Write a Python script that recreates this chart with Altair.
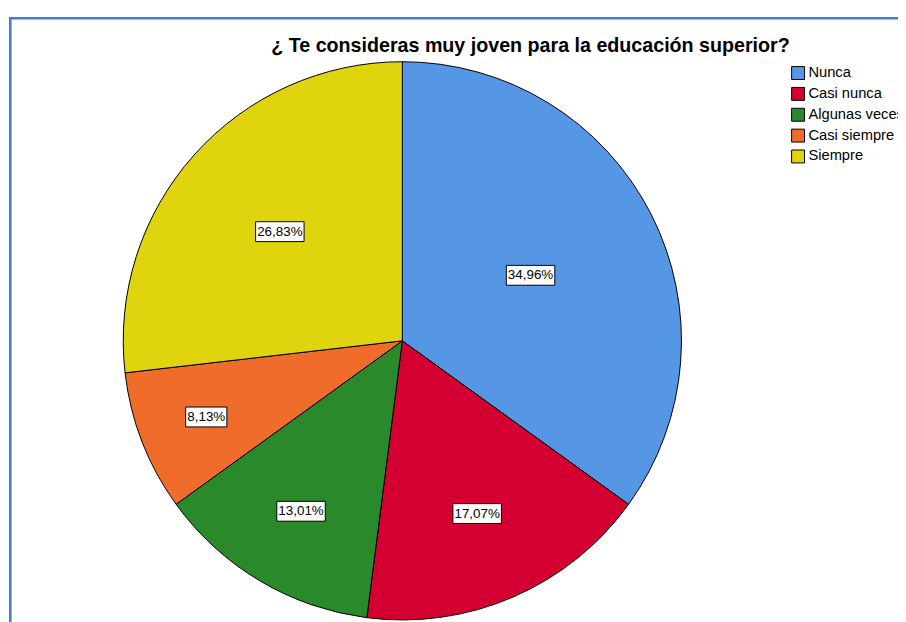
import altair as alt
import pandas as pd

titulo = "¿ Te consideras muy joven para la educación superior?"
categorias = ["Nunca", "Casi nunca", "Algunas veces", "Casi siempre", "Siempre"]
porcentajes = [34.96, 17.07, 13.01, 8.13, 26.83]
colores = ["#5596E5", "#D50032", "#2A892B", "#F06C2A", "#E0D40E"]

etiquetas = [f"{v:.2f}".replace(".", ",") + "%" for v in porcentajes]

df = pd.DataFrame({
    "categoria": categorias,
    "valor": porcentajes,
    "orden": list(range(len(categorias))),
    "etiqueta": etiquetas,
})

W, H = 896, 614
CX, CY, R = 397, 333, 281
FONT = "Liberation Sans"
BORDER = "#4A7BD4"

color = alt.Color(
    "categoria:N",
    scale=alt.Scale(domain=categorias, range=colores),
    sort=categorias,
    legend=alt.Legend(
        title=None, orient="none", legendX=788, legendY=56,
        symbolType="square", symbolSize=169, symbolStrokeColor="black",
        symbolStrokeWidth=1, symbolOpacity=1, labelFont=FONT, labelFontSize=14.8,
        labelColor="black", labelOffset=3, rowPadding=3, padding=0, labelLimit=300,
    ),
)

pie = alt.Chart(df).mark_arc(radius=R, stroke="black", strokeWidth=1).encode(
    theta=alt.Theta("valor:Q", stack=True),
    color=color,
    order=alt.Order("orden:Q"),
    x=alt.value(CX),
    y=alt.value(CY),
)

base_lbl = alt.Chart(df).transform_joinaggregate(
    total="sum(valor)"
).transform_window(
    cum="sum(valor)", sort=[{"field": "orden"}], frame=[None, 0]
).transform_calculate(
    mid="(datum.cum - datum.valor/2)/datum.total*2*PI",
    frac="datum.valor/datum.total",
).transform_calculate(
    rl="232 - 249*datum.frac",
).transform_calculate(
    lx=f"{CX} + datum.rl*sin(datum.mid)",
    ly=f"{CY} - datum.rl*cos(datum.mid)",
    bw="length(datum.etiqueta)*7.3 + 5",
).transform_calculate(
    x1="datum.lx - datum.bw/2",
    x2="datum.lx + datum.bw/2",
    y1="datum.ly - 10",
    y2="datum.ly + 10",
)

boxes = base_lbl.mark_rect(fill="white", stroke="black", strokeWidth=1).encode(
    x=alt.X("x1:Q", scale=None, axis=None),
    x2="x2:Q",
    y=alt.Y("y1:Q", scale=None, axis=None),
    y2="y2:Q",
)

texts = base_lbl.mark_text(font=FONT, fontSize=13.5, color="black",
                           align="center", baseline="middle").encode(
    x=alt.X("lx:Q", scale=None, axis=None),
    y=alt.Y("ly:Q", scale=None, axis=None),
    text="etiqueta:N",
)

title_df = pd.DataFrame({"t": [titulo]})
title = alt.Chart(title_df).mark_text(
    font=FONT, fontSize=19.8, fontWeight="bold", color="black",
    align="center", baseline="middle",
).encode(text="t:N", x=alt.value(526), y=alt.value(36))

one = pd.DataFrame({"a": [0]})
rule_left = alt.Chart(one).mark_rule(color=BORDER, strokeWidth=2.6).encode(
    x=alt.value(2.3), y=alt.value(7), y2=alt.value(H + 50)
)
rule_top = alt.Chart(one).mark_rule(color=BORDER, strokeWidth=2.6).encode(
    x=alt.value(1), x2=alt.value(W + 50), y=alt.value(8.3)
)

chart = alt.layer(rule_left, rule_top, pie, boxes, texts, title).properties(
    width=W, height=H,
    autosize=alt.AutoSizeParams(type="none"),
    padding=0,
    background="white",
).configure_view(stroke=None)

chart.save("out.html", embed_options={"renderer": "svg", "actions": False})
